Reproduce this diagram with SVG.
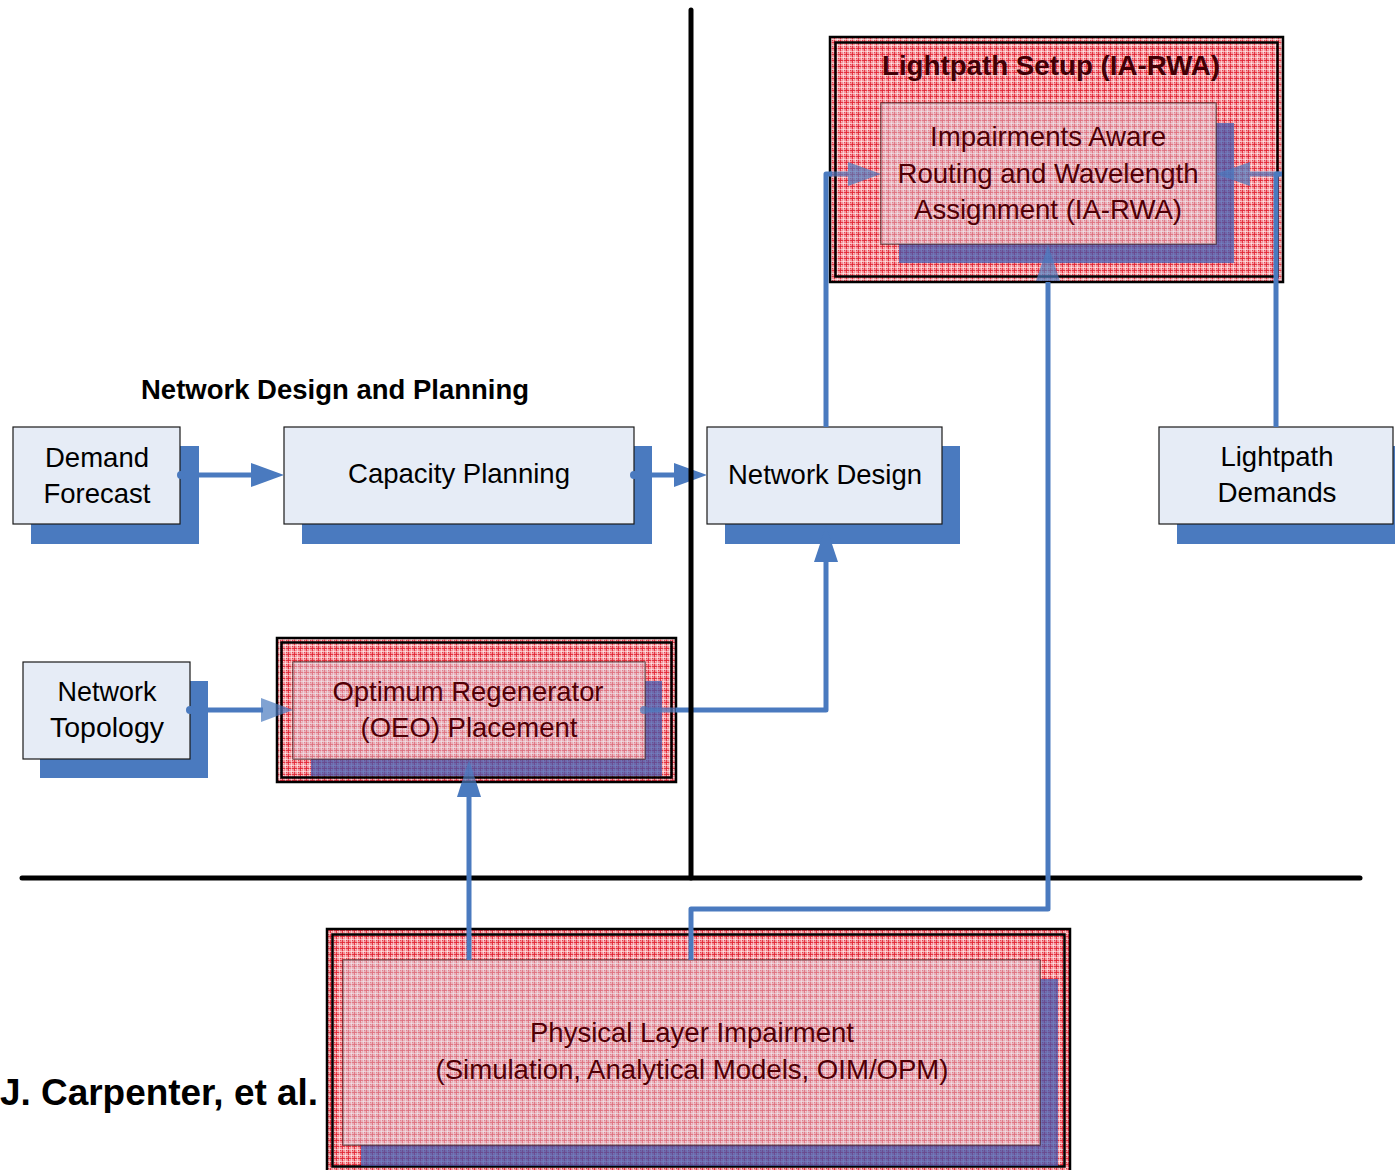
<svg xmlns="http://www.w3.org/2000/svg" width="1395" height="1170" viewBox="0 0 1395 1170">
  <defs>
    <!-- woven red fill used by the impairment-related blocks -->
    <pattern id="weave" width="6" height="6" patternUnits="userSpaceOnUse">
      <rect width="6" height="6" fill="#f4949a"/>
      <rect x="0" y="0" width="6" height="1" fill="#e01e2e" opacity="0.8"/>
      <rect x="0" y="0" width="1" height="6" fill="#e01e2e" opacity="0.8"/>
      <rect x="0" y="3" width="6" height="1" fill="#ffffff" opacity="0.5"/>
      <rect x="3" y="0" width="1" height="6" fill="#ffffff" opacity="0.5"/>
      <rect x="4" y="4" width="1" height="1" fill="#e01e2e" opacity="0.7"/>
      <rect x="1" y="1" width="1" height="1" fill="#ffffff" opacity="0.5"/>
    </pattern>
    <style>
      .box { fill: #e6ecf6; stroke: #1a1a1a; stroke-width: 1.2; }
      .shadow { fill: #4a7abf; }
      .lbl { font-family: "Liberation Sans", Arial, sans-serif; font-size: 28px; fill: #000; text-anchor: middle; }
      .rlbl { font-family: "Liberation Sans", Arial, sans-serif; font-size: 28px; fill: #500006; text-anchor: middle; }
      .bold { font-family: "Liberation Sans", Arial, sans-serif; font-size: 28px; font-weight: bold; text-anchor: middle; }
      .frame { fill: none; stroke: #000; stroke-width: 2.5; }
      .outer { fill: url(#weave); }
      .rshadow { fill: #3a58b0; opacity: 0.72; }
      .rinner { fill: url(#weave); stroke: #4a2020; stroke-width: 1.2; }
      .veil { fill: #dcd8e6; opacity: 0.42; }
      .wire { fill: none; stroke: #4a7abf; stroke-width: 5; stroke-linejoin: round; }
      .head { fill: #4a7abf; }
      .inside { opacity: 0.7; }
      .dot { fill: #4a7abf; }
      .rule { stroke: #000; stroke-width: 5; stroke-linecap: round; }
    </style>
  </defs>

  <rect width="1395" height="1170" fill="#ffffff"/>

  <!-- section divider (horizontal) -->
  <line class="rule" x1="22" y1="878" x2="1360" y2="878"/>

  <!-- plain nodes -->
  <g id="demand-forecast">
    <rect class="shadow" x="31" y="446" width="168" height="98"/>
    <rect class="box" x="13" y="427" width="167" height="97"/>
    <text class="lbl" x="97" y="467" textLength="104" lengthAdjust="spacingAndGlyphs">Demand</text>
    <text class="lbl" x="97" y="503" textLength="107" lengthAdjust="spacingAndGlyphs">Forecast</text>
  </g>

  <g id="capacity-planning">
    <rect class="shadow" x="302" y="446" width="350" height="98"/>
    <rect class="box" x="284" y="427" width="350" height="97"/>
    <text class="lbl" x="459" y="483" textLength="222" lengthAdjust="spacingAndGlyphs">Capacity Planning</text>
  </g>

  <g id="network-design">
    <rect class="shadow" x="725" y="446" width="235" height="98"/>
    <rect class="box" x="707" y="427" width="235" height="97"/>
    <text class="lbl" x="825" y="484" textLength="194" lengthAdjust="spacingAndGlyphs">Network Design</text>
  </g>

  <g id="lightpath-demands">
    <rect class="shadow" x="1177" y="446" width="220" height="98"/>
    <rect class="box" x="1159" y="427" width="234" height="97"/>
    <text class="lbl" x="1277" y="466" textLength="113" lengthAdjust="spacingAndGlyphs">Lightpath</text>
    <text class="lbl" x="1277" y="502" textLength="119" lengthAdjust="spacingAndGlyphs">Demands</text>
  </g>

  <g id="network-topology">
    <rect class="shadow" x="40" y="681" width="168" height="97"/>
    <rect class="box" x="23" y="662" width="167" height="97"/>
    <text class="lbl" x="107" y="701" textLength="99" lengthAdjust="spacingAndGlyphs">Network</text>
    <text class="lbl" x="107" y="737" textLength="114" lengthAdjust="spacingAndGlyphs">Topology</text>
  </g>

  <!-- impairment-aware blocks -->
  <g id="lightpath-setup">
    <rect class="outer" x="830" y="37" width="453" height="245"/>
    <rect class="frame" x="830" y="37" width="453" height="245"/>
    <rect class="frame" x="835.5" y="42.5" width="442" height="234" stroke-width="2"/>
    <text class="bold" x="1051" y="75" fill="#420006" textLength="338" lengthAdjust="spacingAndGlyphs">Lightpath Setup (IA-RWA)</text>
    <g id="ia-rwa">
      <rect class="rshadow" x="899" y="123" width="335" height="140"/>
      <rect class="rinner" x="881" y="103" width="335" height="141"/>
      <rect class="veil" x="881" y="103" width="335" height="141"/>
      <text class="rlbl" x="1048" y="146" textLength="236" lengthAdjust="spacingAndGlyphs">Impairments Aware</text>
      <text class="rlbl" x="1048" y="183" textLength="301" lengthAdjust="spacingAndGlyphs">Routing and Wavelength</text>
      <text class="rlbl" x="1048" y="219" textLength="268" lengthAdjust="spacingAndGlyphs">Assignment (IA-RWA)</text>
    </g>
  </g>

  <g id="regenerator-placement">
    <rect class="outer" x="277" y="638" width="399" height="144"/>
    <rect class="frame" x="277" y="638" width="399" height="144"/>
    <rect class="frame" x="281.5" y="642.5" width="390" height="135" stroke-width="2"/>
    <rect class="rshadow" x="311" y="681" width="351" height="95"/>
    <rect class="rinner" x="293" y="662" width="352" height="97"/>
    <rect class="veil" x="293" y="662" width="352" height="97"/>
    <text class="rlbl" x="468" y="701" textLength="271" lengthAdjust="spacingAndGlyphs">Optimum Regenerator</text>
    <text class="rlbl" x="469" y="737" textLength="217" lengthAdjust="spacingAndGlyphs">(OEO) Placement</text>
  </g>

  <g id="physical-layer-impairment">
    <rect class="outer" x="327" y="929" width="743" height="244"/>
    <rect class="frame" x="327" y="929" width="743" height="244"/>
    <rect class="frame" x="332.5" y="934.5" width="732" height="232" stroke-width="2"/>
    <rect class="rshadow" x="361" y="979" width="697" height="187"/>
    <rect class="rinner" x="343" y="960" width="697" height="185"/>
    <rect class="veil" x="343" y="960" width="697" height="185"/>
    <text class="rlbl" x="692" y="1042" textLength="324" lengthAdjust="spacingAndGlyphs">Physical Layer Impairment</text>
    <text class="rlbl" x="692" y="1079" textLength="513" lengthAdjust="spacingAndGlyphs">(Simulation, Analytical Models, OIM/OPM)</text>
  </g>

  <!-- connectors -->
  <g id="connectors">
    <!-- Demand Forecast -> Capacity Planning -->
    <circle class="dot" cx="181" cy="475" r="4"/>
    <line class="wire" x1="181" y1="475" x2="253" y2="475"/>
    <polygon class="head" points="251,463 284,475 251,487"/>

    <!-- Capacity Planning -> Network Design -->
    <circle class="dot" cx="634" cy="475" r="4"/>
    <line class="wire" x1="634" y1="475" x2="676" y2="475"/>
    <polygon class="head" points="674,463 707,475 674,487"/>

    <!-- Network Topology -> Regenerator Placement -->
    <circle class="dot" cx="190" cy="710" r="4"/>
    <line class="wire" x1="190" y1="710" x2="263" y2="710"/>
    <polygon class="head inside" points="261,698 293,710 261,722"/>

    <!-- Regenerator Placement -> Network Design -->
    <g class="inside">
      <circle class="dot" cx="644" cy="710" r="4"/>
      <line class="wire" x1="644" y1="710" x2="676" y2="710"/>
    </g>
    <polyline class="wire" points="676,710 826,710 826,560"/>
    <polygon class="head" points="814,562 826,526 838,562"/>

    <!-- Network Design -> IA-RWA -->
    <polyline class="wire" points="826,427 826,174 832,174"/>
    <g class="inside">
      <line class="wire" x1="830" y1="174" x2="850" y2="174"/>
      <polygon class="head" points="848,162 881,174 848,186"/>
    </g>

    <!-- Lightpath Demands -> IA-RWA -->
    <polyline class="wire" points="1276,427 1276,174 1282,174"/>
    <g class="inside">
      <line class="wire" x1="1280" y1="174" x2="1248" y2="174"/>
      <polygon class="head" points="1250,162 1216,174 1250,186"/>
    </g>

    <!-- Physical Layer Impairment -> Regenerator Placement -->
    <line class="wire" x1="469" y1="960" x2="469" y2="795"/>
    <polygon class="head" points="457,797 461.5,783 476.5,783 481,797"/>
    <polygon class="head inside" points="461.5,783 469,760 476.5,783"/>

    <!-- Physical Layer Impairment -> Lightpath Setup -->
    <polyline class="wire" points="691,960 691,909 1048,909 1048,282"/>
    <polygon class="head inside" points="1036,281 1048,245 1060,281"/>
  </g>

  <!-- section divider (vertical) -->
  <line class="rule" x1="691" y1="10" x2="691" y2="878"/>

  <!-- captions -->
  <text class="bold" x="335" y="399" fill="#000" textLength="388" lengthAdjust="spacingAndGlyphs">Network Design and Planning</text>
  <text x="0" y="1105" font-family="Liberation Sans, Arial, sans-serif" font-size="37" font-weight="bold" fill="#000" textLength="318" lengthAdjust="spacingAndGlyphs">J. Carpenter, et al.</text>
</svg>
